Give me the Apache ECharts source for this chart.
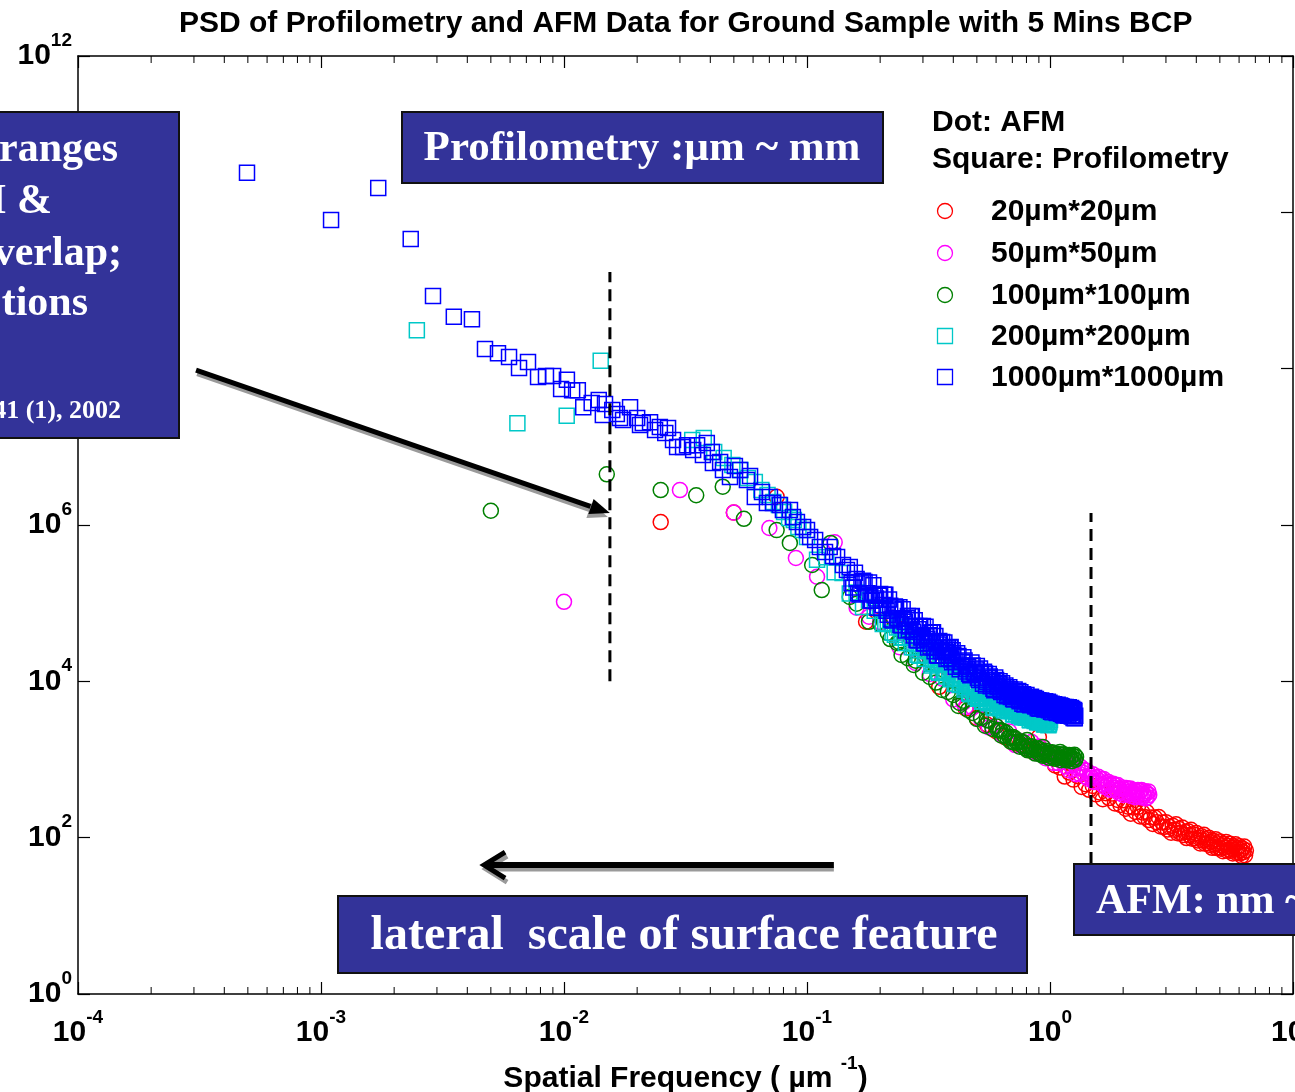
<!DOCTYPE html>
<html><head><meta charset="utf-8">
<script src="https://cdn.jsdelivr.net/npm/echarts/dist/echarts.min.js"></script>
<style>html,body{margin:0;padding:0;background:#fff}#c{width:1295px;height:1092px}</style>
</head><body><div id="c"></div>
<script>
// ---------------- DATA (frequency in µm^-1, PSD) ----------------
const seriesNames = ['20µm*20µm','50µm*50µm','100µm*100µm','200µm*200µm','1000µm*1000µm'];
const xTickExponents = [-4,-3,-2,-1,0,1];
const yTickExponents = [0,2,4,6,8,10,12];

const afm20 = [
[0.025,1.09e6],[0.05,1.44e6],[0.075,2.3e6],[0.175,5.8e4],[0.2,9.0e4],[0.225,6.5e4],[0.25,4.7e4],[0.275,3.6e4],[0.3,2.8e4],[0.325,2.2e4],[0.35,8.5e3],[0.375,1.5e4],[0.4,1.2e4],[0.45,4.5e3],[0.5,3.4e3],[0.55,2.8e3],[0.6,2.3e3],[0.65,1.95e3],[0.7,1.66e3],[0.75,1.55e3],[0.8,1.38e3],[0.85,1.26e3],[0.9,1.94e3],[0.95,1.17e3],
[1.00,1.21e3],[1.05,8.39e2],[1.10,7.89e2],[1.15,6.05e2],[1.20,6.81e2],[1.25,5.53e2],[1.30,6.11e2],[1.35,4.46e2],[1.40,4.84e2],[1.45,4.09e2],[1.50,4.58e2],[1.55,3.58e2],[1.60,3.79e2],[1.65,3.1e2],[1.70,3.71e2],[1.75,3.21e2],[1.80,3.66e2],[1.85,2.74e2],[1.90,3.04e2],[1.95,2.62e2],
[2.00,3.01e2],[2.05,2.35e2],[2.10,2.49e2],[2.15,2.03e2],[2.20,2.43e2],[2.25,2.13e2],[2.30,2.47e2],[2.35,1.87e2],[2.40,2.1e2],[2.45,1.84e2],[2.50,2.13e2],[2.55,1.68e2],[2.60,1.81e2],[2.65,1.5e2],[2.70,1.81e2],[2.75,1.58e2],[2.80,1.84e2],[2.85,1.39e2],[2.90,1.56e2],[2.95,1.37e2],
[3.00,1.58e2],[3.05,1.27e2],[3.10,1.38e2],[3.15,1.16e2],[3.20,1.42e2],[3.25,1.26e2],[3.30,1.48e2],[3.35,1.14e2],[3.40,1.29e2],[3.45,1.15e2],[3.50,1.35e2],[3.55,1.08e2],[3.60,1.18e2],[3.65,98.9],[3.70,1.21e2],[3.75,1.08e2],[3.80,1.26e2],[3.85,96.8],[3.90,1.1e2],[3.95,97.9],
[4.00,1.15e2],[4.05,92.3],[4.10,1.0e2],[4.15,84.3],[4.20,1.04e2],[4.25,92.5],[4.30,1.09e2],[4.35,83.8],[4.40,95.7],[4.45,85.3],[4.50,1.0e2],[4.55,80.7],[4.60,88.3],[4.65,74.1],[4.70,91.2],[4.75,81.3],[4.80,95.7],[4.85,73.6],[4.90,84.1],[4.95,75.3],
[5.00,89.3],[5.05,72.3],[5.10,79.4],[5.15,67.1],[5.20,83.2],[5.25,74.5],[5.30,88.3],[5.35,68.2],[5.40,78.5],[5.45,70.3],[5.50,83.4],[5.55,67.5],[5.60,74.1],[5.65,62.7],[5.70,77.6],[5.75,69.5],[5.80,82.4],[5.85,63.7],[5.90,73.3],[5.95,65.6],
[6.00,77.8],[6.05,63.0],[6.10,69.2],[6.15,58.5],[6.20,72.6],[6.25,65.0],[6.30,77.1],[6.35,59.6],[6.40,68.5]
];

const afm50 = [
[0.01,1.04e5],[0.03,2.8e6],[0.05,1.44e6],[0.07,9.15e5],[0.09,3.78e5],[0.11,2.18e5],[0.13,6.0e5],[0.18,6.71e4],[0.45,4.7e3],[0.58,2.6e3],
[0.16,8.75e4],[0.20,5.73e4],[0.24,2.73e4],[0.28,1.72e4],[0.32,1.24e4],[0.36,1.08e4],[0.40,5.87e3],[0.44,5.32e3],[0.48,4.62e3],[0.52,3.29e3],[0.56,2.58e3],[0.60,2.7e3],[0.64,2.05e3],[0.68,2.28e3],[0.72,1.53e3],[0.76,1.73e3],[0.80,1.46e3],[0.84,1.67e3],[0.88,1.2e3],
[0.90,1.47e3],[0.92,1.19e3],[0.94,1.43e3],[0.96,1.04e3],[0.98,1.18e3],[1.00,1.06e3],[1.02,1.21e3],[1.04,9.0e2],[1.06,1.08e3],[1.08,9.0e2],[1.10,1.09e3],[1.12,9.29e2],[1.14,1.0e3],[1.16,8.15e2],[1.18,9.86e2],[1.20,7.23e2],
[1.22,8.32e2],[1.24,7.53e2],[1.26,8.65e2],[1.28,6.49e2],[1.30,7.8e2],[1.32,6.56e2],[1.34,8.0e2],[1.36,6.84e2],[1.38,7.4e2],[1.40,6.05e2],[1.42,7.16e2],[1.44,5.64e2],[1.46,6.27e2],[1.48,5.79e2],[1.50,6.46e2],[1.52,5.14e2],[1.54,5.92e2],[1.56,5.16e2],[1.58,6.01e2],[1.60,5.31e2],
[1.62,5.65e2],[1.64,4.84e2],[1.66,5.65e2],[1.68,4.46e2],[1.70,4.98e2],[1.72,4.61e2],[1.74,5.14e2],[1.76,4.1e2],[1.78,4.74e2],[1.80,4.15e2],[1.82,4.88e2],[1.84,4.35e2],[1.86,4.66e2],[1.88,4.01e2],[1.90,4.71e2],[1.92,3.73e2],[1.94,4.19e2],[1.96,3.91e2],[1.98,4.39e2],[2.00,3.52e2],
[2.02,4.11e2],[2.04,3.65e2],[2.06,4.31e2],[2.08,3.86e2],[2.10,4.16e2],[2.12,3.6e2],[2.14,4.26e2],[2.16,3.4e2],[2.18,3.84e2],[2.20,3.6e2],[2.22,4.07e2],[2.24,3.3e2],[2.26,3.86e2],[2.28,3.44e2],[2.30,4.07e2],[2.32,3.66e2],[2.34,3.95e2],[2.36,3.44e2],[2.38,4.06e2],[2.40,3.26e2],
[2.42,3.68e2],[2.44,3.47e2],[2.46,3.92e2],[2.48,3.18e2],[2.50,3.72e2],[2.52,3.3e2],[2.54,3.91e2],[2.56,3.52e2]
];

const afm100 = [
[0.005,1.52e6],[0.015,4.45e6],[0.025,2.8e6],[0.035,2.4e6],[0.045,3.09e6],[0.055,1.2e6],[0.075,8.6e5],[0.085,5.9e5],[0.105,3.08e5],[0.115,1.47e5],[0.125,5.9e5],[0.15,1.2e5],
[0.215,4.15e4],[0.235,3.09e4],[0.245,2.17e4],[0.275,1.62e4],[0.425,5.28e3],[0.55,3.2e3],[0.625,2.38e3],[0.705,1.94e3],[0.805,1.78e3],[0.935,1.44e3],
[0.16,9.86e4],[0.18,5.77e4],[0.20,5.41e4],[0.22,3.47e4],[0.24,3.16e4],[0.26,1.98e4],[0.28,1.84e4],[0.30,1.29e4],[0.32,1.14e4],[0.34,9.64e3],[0.36,7.74e3],[0.38,7.33e3],[0.40,6.68e3],[0.42,4.85e3],[0.44,5.66e3],[0.46,4.31e3],[0.48,3.93e3],[0.50,3.3e3],[0.52,3.44e3],[0.54,2.7e3],[0.56,3.13e3],[0.58,2.46e3],
[0.60,2.67e3],[0.61,2.36e3],[0.62,2.39e3],[0.63,2.03e3],[0.64,2.32e3],[0.65,2.03e3],[0.66,2.21e3],[0.67,1.85e3],[0.68,1.93e3],[0.69,1.69e3],[0.70,1.87e3],[0.71,1.66e3],[0.72,1.85e3],[0.73,1.65e3],[0.74,1.69e3],[0.75,1.46e3],[0.76,1.69e3],[0.77,1.5e3],[0.78,1.65e3],[0.79,1.4e3],
[0.80,1.47e3],[0.81,1.31e3],[0.82,1.48e3],[0.83,1.32e3],[0.84,1.48e3],[0.85,1.33e3],[0.86,1.37e3],[0.87,1.19e3],[0.88,1.38e3],[0.89,1.23e3],[0.90,1.37e3],[0.91,1.17e3],[0.92,1.25e3],[0.93,1.12e3],[0.94,1.27e3],[0.95,1.14e3],[0.96,1.29e3],[0.97,1.16e3],[0.98,1.2e3],[0.99,1.05e3],
[1.00,1.23e3],[1.01,1.1e3],[1.02,1.24e3],[1.03,1.06e3],[1.04,1.14e3],[1.05,1.02e3],[1.06,1.16e3],[1.07,1.05e3],[1.08,1.18e3],[1.09,1.07e3],[1.10,1.25e3],[1.11,9.8e2],[1.12,1.15e3],[1.13,1.04e3],[1.14,1.17e3],[1.15,1.0e3],[1.16,1.08e3],[1.17,9.7e2],[1.18,1.11e3],[1.19,1.0e3],
[1.20,1.14e3],[1.21,1.04e3],[1.22,1.08e3],[1.23,9.5e2],[1.24,1.12e3],[1.25,1.02e3],[1.26,1.15e3],[1.27,9.9e2],[1.28,1.08e3]
];

const prof200 = [
[0.00248,3.09e8],[0.00643,2.0e7],[0.01026,2.5e7],[0.01416,1.26e8],[0.0337,1.22e7],[0.0376,1.3e7],[0.0415,8.6e6],[0.0454,7.2e6],[0.0493,5.85e6],[0.0532,5.05e6],[0.0571,3.99e6],[0.061,3.55e6],[0.0649,2.8e6],[0.0688,2.42e6],[0.0727,1.97e6],[0.0766,1.8e6],[0.0805,1.47e6],[0.0844,1.23e6],[0.0883,1.16e6],[0.0922,9.4e5],[0.0961,8.6e5],[0.1,7.0e5],
[0.11,3.58e5],[0.12,3.88e5],[0.13,2.48e5],[0.14,2.43e5],[0.15,1.33e5],[0.16,1.37e5],[0.17,8.91e4],[0.18,1.09e5],[0.19,7.98e4],[0.20,8.87e4],[0.21,5.58e4],[0.22,5.97e4],[0.23,3.94e4],[0.24,4.94e4],[0.25,3.66e4],[0.26,4.36e4],[0.27,2.73e4],[0.28,3.03e4],[0.29,2.13e4],[0.30,2.72e4],
[0.31,2.15e4],[0.32,2.56e4],[0.33,1.68e4],[0.34,1.87e4],[0.35,1.29e4],[0.36,1.7e4],[0.37,1.33e4],[0.38,1.64e4],[0.39,1.06e4],[0.40,1.22e4],[0.41,9.27e3],[0.42,1.2e4],[0.43,9.95e3],[0.44,1.19e4],[0.45,8.34e3],[0.46,9.38e3],[0.47,6.84e3],[0.48,8.89e3],[0.49,7.19e3],[0.50,8.79e3],
[0.51,6.12e3],[0.52,7.16e3],[0.53,5.55e3],[0.54,7.35e3],[0.55,6.17e3],[0.56,7.52e3],[0.57,5.35e3],[0.58,6.14e3],[0.59,4.55e3],[0.60,6.03e3],[0.61,5.09e3],[0.62,5.96e3],[0.63,4.6e3],[0.64,5.15e3],[0.65,4.3e3],[0.66,5.25e3],[0.67,4.65e3],[0.68,5.35e3],[0.69,4.2e3],[0.70,4.62e3],
[0.71,3.77e3],[0.72,4.62e3],[0.73,4.06e3],[0.74,4.76e3],[0.75,3.71e3],[0.76,4.18e3],[0.77,3.49e3],[0.78,4.3e3],[0.79,3.82e3],[0.80,4.43e3],[0.81,3.51e3],[0.82,3.9e3],[0.83,3.18e3],[0.84,3.93e3],[0.85,3.45e3],[0.86,4.06e3],[0.87,3.17e3],[0.88,3.58e3],[0.89,3.01e3],[0.90,3.71e3],
[0.91,3.32e3],[0.92,3.86e3],[0.93,3.07e3],[0.94,3.42e3],[0.95,2.81e3],[0.96,3.47e3],[0.97,3.05e3],[0.98,3.61e3],[0.99,2.82e3],[1.00,3.2e3],
[0.205,5.41e4],[0.215,5.52e4],[0.225,4.18e4],[0.235,4.9e4],[0.245,3.62e4],[0.255,3.1e4],[0.265,3.7e4],[0.275,2.72e4],[0.285,2.19e4],[0.295,2.49e4],[0.305,1.95e4],[0.315,2.43e4],[0.325,1.59e4],[0.335,1.69e4],[0.345,1.34e4],
[0.355,1.64e4],[0.365,1.28e4],[0.375,1.15e4],[0.385,1.41e4],[0.395,1.08e4],[0.405,9.29e3],[0.415,1.09e4],[0.425,8.99e3],[0.435,1.12e4],[0.445,7.85e3],[0.455,8.49e3],[0.465,7.0e3],[0.475,8.57e3],[0.485,6.92e3],[0.495,6.34e3],
[0.505,5.97e3],[0.515,6.56e3],[0.525,5.51e3],[0.535,6.87e3],[0.545,5.65e3],[0.555,5.26e3],[0.565,6.55e3],[0.575,5.27e3],[0.585,4.62e3],[0.595,5.52e3],[0.605,4.85e3],[0.615,5.75e3],[0.625,4.52e3],[0.635,4.84e3],[0.645,4.28e3],
[0.655,5.01e3],[0.665,4.37e3],[0.675,4.15e3],[0.685,4.85e3],[0.695,4.16e3],[0.705,3.79e3],[0.715,4.34e3],[0.725,3.85e3],[0.735,4.59e3],[0.745,3.62e3],[0.755,3.91e3],[0.765,3.48e3],[0.775,4.08e3],[0.785,3.58e3],[0.795,3.42e3],
[0.805,4.04e3],[0.815,3.49e3],[0.825,3.21e3],[0.835,3.67e3],[0.845,3.27e3],[0.855,3.91e3],[0.865,3.1e3],[0.875,3.35e3],[0.885,2.99e3],[0.895,3.52e3],[0.905,3.1e3],[0.915,2.98e3],[0.925,3.52e3],[0.935,3.05e3],[0.945,2.82e3],
[0.955,3.24e3],[0.965,2.89e3],[0.975,3.47e3],[0.985,2.75e3],[0.995,2.99e3]
];

const prof1000 = [
[4.96e-4,3.2e10],[1.1e-3,8.0e9],[1.72e-3,2.05e10],[2.34e-3,4.55e9],[2.89e-3,8.5e8],[3.52e-3,4.6e8],[4.18e-3,4.3e8],[4.73e-3,1.78e8],[5.35e-3,1.58e8],[5.94e-3,1.41e8],[6.53e-3,1.02e8],[7.11e-3,1.22e8],[7.82e-3,7.8e7],[8.43e-3,8.05e7],[9.02e-3,8.05e7],[9.73e-3,5.5e7],
[1.028e-2,7.2e7],[1.08e-2,5.3e7],[1.14e-2,5.3e7],[1.2e-2,3.2e7],[1.3e-2,3.63e7],[1.39e-2,3.97e7],[1.445e-2,2.55e7],[1.475e-2,3.53e7],[1.58e-2,2.96e7],[1.65e-2,2.63e7],[1.70e-2,2.34e7],[1.75e-2,2.2e7],[1.87e-2,3.2e7],[2.0e-2,2.34e7],[2.055e-2,1.9e7],[2.11e-2,2.02e7],[2.26e-2,2.07e7],[2.37e-2,1.64e7],[2.48e-2,1.79e7],[2.61e-2,1.5e7],[2.68e-2,1.74e7],[2.81e-2,1.22e7],[2.92e-2,9.95e6],
[3.09e-2,9.95e6],[3.21e-2,1.05e7],[3.4e-2,9.1e6],[3.53e-2,1.05e7],[3.73e-2,7.86e6],[3.87e-2,1.12e7],[4.06e-2,8.6e6],[4.1e-2,6.2e6],[4.39e-2,6.4e6],[4.51e-2,5.05e6],[4.82e-2,4.1e6],[5.05e-2,5.7e6],[5.3e-2,5.05e6],[5.66e-2,3.76e6],[5.83e-2,4.24e6],[6.1e-2,2.28e6],[6.53e-2,2.64e6],[6.84e-2,1.91e6],[7.04e-2,2.28e6],[7.24e-2,1.91e6],[7.74e-2,1.8e6],[7.96e-2,1.56e6],
[8.51e-2,1.56e6],[8.75e-2,1.27e6],[9.09e-2,1.09e6],[9.64e-2,9.4e5],[0.100,8.63e5],[0.103,7.0e5],[0.108,6.43e5],[0.113,5.23e5],[0.1186,4.51e5],[0.124,5.23e5],[0.128,4.01e5],[0.133,3.9e5],[0.1406,3.08e5],[0.146,2.65e5],
[0.150,2.9e5],[0.155,1.59e5],[0.160,2.04e5],[0.165,1.29e5],[0.170,1.94e5],[0.175,1.34e5],[0.180,1.84e5],[0.185,1.07e5],[0.190,1.26e5],[0.195,8.75e4],[0.200,1.31e5],[0.205,9.5e4],[0.210,1.28e5],[0.215,7.1e4],[0.220,9.3e4],[0.225,6.0e4],[0.230,9.08e4],[0.235,6.4e4],[0.240,8.87e4],[0.245,5.22e4],
[0.250,6.27e4],[0.255,4.47e4],[0.260,6.85e4],[0.265,5.02e4],[0.270,6.85e4],[0.275,3.86e4],[0.280,5.09e4],[0.285,3.33e4],[0.290,5.1e4],[0.295,3.64e4],[0.300,5.1e4],[0.305,3.08e4],[0.310,3.76e4],[0.315,2.7e4],[0.320,4.18e4],[0.325,3.09e4],[0.330,4.26e4],[0.335,2.42e4],[0.340,3.22e4],[0.345,2.12e4],
[0.350,3.28e4],[0.355,2.43e4],[0.360,3.18e4],[0.365,2.14e4],[0.370,2.5e4],[0.375,1.93e4],[0.380,2.7e4],[0.385,2.13e4],[0.390,2.74e4],[0.395,1.75e4],[0.400,2.19e4],
[0.41,1.54e4],[0.42,2.11e4],[0.43,1.59e4],[0.44,2.04e4],[0.45,1.34e4],[0.46,1.54e4],[0.47,1.2e4],[0.48,1.6e4],[0.49,1.28e4],[0.50,1.57e4],[0.51,1.04e4],[0.52,1.26e4],[0.53,9.33e3],[0.54,1.26e4],[0.55,9.86e3],[0.56,1.24e4],[0.57,8.63e3],[0.58,9.84e3],[0.59,7.71e3],[0.60,1.04e4],
[0.61,8.47e3],[0.62,1.0e4],[0.63,7.29e3],[0.64,8.47e3],[0.65,6.7e3],[0.66,8.43e3],[0.67,7.0e3],[0.68,8.39e3],[0.69,6.32e3],[0.70,7.0e3],[0.71,5.85e3],[0.72,7.45e3],[0.73,6.32e3],[0.74,7.53e3],[0.75,5.55e3],[0.76,6.5e3],[0.77,5.18e3],[0.78,6.58e3],[0.79,5.51e3],[0.80,6.67e3],
[0.81,5.19e3],[0.82,5.71e3],[0.83,4.94e3],[0.84,6.05e3],[0.85,5.3e3],[0.86,6.14e3],[0.87,4.78e3],[0.88,5.46e3],[0.89,4.54e3],[0.90,5.56e3],[0.91,4.82e3],[0.92,5.68e3],[0.93,4.55e3],[0.94,5.02e3],[0.95,4.36e3],[0.96,5.35e3],[0.97,4.69e3],[0.98,5.47e3],[0.99,4.27e3],[1.00,4.89e3],
[1.01,4.07e3],[1.02,5.0e3],[1.03,4.34e3],[1.04,5.1e3],[1.05,4.08e3],[1.06,4.52e3],[1.07,3.92e3],[1.08,4.81e3],[1.09,4.22e3],[1.10,4.91e3],[1.11,3.85e3],[1.12,4.42e3],[1.13,3.7e3],[1.14,4.55e3],[1.15,3.96e3],[1.16,4.68e3],[1.17,3.76e3],[1.18,4.16e3],[1.19,3.62e3],[1.20,4.46e3],
[1.21,3.91e3],[1.22,4.56e3],[1.23,3.56e3],[1.24,4.07e3],[1.25,3.4e3],[1.26,4.18e3],[1.27,3.62e3],
[0.1525,1.8e5],[0.1575,2.45e5],[0.1625,1.34e5],[0.1675,1.78e5],[0.1725,1.87e5],[0.1775,1.34e5],[0.1825,1.08e5],[0.1875,1.7e5],[0.1925,1.15e5],[0.1975,1.24e5],[0.2025,8.67e4],[0.2075,1.28e5],[0.2125,7.98e4],[0.2175,1.11e5],[0.2225,6.17e4],
[0.2275,8.32e4],[0.2325,8.83e4],[0.2375,6.41e4],[0.2425,5.24e4],[0.2475,8.39e4],[0.2525,5.78e4],[0.2575,6.41e4],[0.2625,4.57e4],[0.2675,6.81e4],[0.2725,4.32e4],[0.2775,6.04e4],[0.2825,3.4e4],[0.2875,4.65e4],[0.2925,5.0e4],[0.2975,3.67e4],
[0.3025,3.05e4],[0.3075,4.99e4],[0.3125,3.48e4],[0.3175,3.89e4],[0.3225,2.8e4],[0.3275,4.21e4],[0.3325,2.69e4],[0.3375,3.8e4],[0.3425,2.16e4],[0.3475,2.97e4],[0.3525,3.11e4],[0.3575,2.45e4],[0.3625,2.12e4],[0.3675,3.13e4],[0.3725,2.36e4],
[0.3775,2.56e4],[0.3825,1.98e4],[0.3875,2.71e4],[0.3925,1.91e4],[0.3975,2.5e4],
[0.405,1.78e4],[0.415,2.28e4],[0.425,1.43e4],[0.435,1.78e4],[0.445,1.85e4],[0.455,1.45e4],[0.465,1.25e4],[0.475,1.74e4],[0.485,1.33e4],[0.495,1.42e4],[0.505,1.11e4],[0.515,1.46e4],[0.525,1.05e4],[0.535,1.33e4],[0.545,8.87e3],
[0.555,1.1e4],[0.565,1.15e4],[0.575,9.23e3],[0.585,8.02e3],[0.595,1.12e4],[0.605,8.73e3],[0.615,9.2e3],[0.625,7.64e3],[0.635,9.46e3],[0.645,7.36e3],[0.655,8.83e3],[0.665,6.44e3],[0.675,7.6e3],[0.685,7.91e3],[0.695,6.65e3],
[0.705,6.0e3],[0.715,7.89e3],[0.725,6.49e3],[0.735,6.9e3],[0.745,5.78e3],[0.755,7.23e3],[0.765,5.66e3],[0.775,6.85e3],[0.785,5.05e3],[0.795,6.01e3],[0.805,6.22e3],[0.815,5.46e3],[0.825,5.05e3],[0.835,6.34e3],[0.845,5.41e3],
[0.855,5.7e3],[0.865,4.93e3],[0.875,5.96e3],[0.885,4.89e3],[0.895,5.74e3],[0.905,4.47e3],[0.915,5.2e3],[0.925,5.45e3],[0.935,4.79e3],[0.945,4.44e3],[0.955,5.58e3],[0.965,4.78e3],[0.975,5.07e3],[0.985,4.4e3],[0.995,5.32e3],
[1.005,4.38e3],[1.015,5.15e3],[1.025,4.02e3],[1.035,4.68e3],[1.045,4.89e3],[1.055,4.31e3],[1.065,3.99e3],[1.075,5.02e3],[1.085,4.3e3],[1.095,4.55e3],[1.105,3.95e3],[1.115,4.81e3],[1.125,3.96e3],[1.135,4.69e3],[1.145,3.66e3],
[1.155,4.29e3],[1.165,4.49e3],[1.175,3.96e3],[1.185,3.68e3],[1.195,4.66e3],[1.205,3.98e3],[1.215,4.23e3],[1.225,3.66e3],[1.235,4.44e3],[1.245,3.66e3],[1.255,4.31e3],[1.265,3.36e3]
];

// annotation anchors in data coordinates [frequency, PSD]
const guideLines = [[[1.545e-2,1.0e4],[1.545e-2,1.72e9]], [[1.475,46],[1.475,1.42e6]]];
const arrowDiagonal = [[3.06e-4,9.6e7],[1.545e-2,1.42e6]];
const arrowHorizontal = [[0.129,44.7],[4.69e-3,44.7]];

// ---------------- CHART ----------------
const SANS = "'Liberation Sans', Arial, Helvetica, sans-serif";
const SERIF = "'Liberation Serif', 'Times New Roman', serif";
const colors = ['#ff0000','#ff00ff','#008000','#00c8c8','#0000ff'];
const symbols = ['circle','circle','circle','rect','rect'];
const seriesData = [afm20, afm50, afm100, prof200, prof1000];

const minorTickValues = [];
for (let e = -4; e < 1; e++) for (let m = 2; m <= 9; m++) minorTickValues.push([m * Math.pow(10, e), 1]);

function expLabel(v) { const e = Math.round(Math.log10(v)); return '{b|10}{s|' + e + '}'; }
const labelRich = {
  b: {fontSize: 30, fontWeight: 'bold', fontFamily: SANS, color: '#000'},
  s: {fontSize: 19, fontWeight: 'bold', fontFamily: SANS, color: '#000', padding: [0, 0, 31, 0]}
};
const axisLine = {show: true, lineStyle: {color: '#000', width: 1.5}};

const chart = echarts.init(document.getElementById('c'), null, {renderer: 'canvas'});
const option = {
  animation: false,
  backgroundColor: '#fff',
  title: {
    text: 'PSD of Profilometry and AFM Data for Ground Sample with 5 Mins BCP',
    left: 174, top: 4,
    textStyle: {fontSize: 30, fontWeight: 'bold', fontFamily: SANS, color: '#000'}
  },
  grid: {left: 78, right: 2, top: 56, bottom: 98, containLabel: false, outerBoundsMode: 'none'},
  xAxis: [{
    type: 'log', logBase: 10, min: 1e-4, max: 10, position: 'bottom',
    axisLine, axisTick: {inside: true, length: 12, lineStyle: {color: '#000', width: 1.2}},
    axisLabel: {formatter: expLabel, rich: labelRich, margin: 14, showMaxLabel: true, showMinLabel: true, hideOverlap: false},
    splitLine: {show: false},
    name: '{t|Spatial Frequency ( µm }{s|-1}{t|)}', nameLocation: 'middle', nameGap: 60,
    nameTextStyle: {rich: {
      t: {fontSize: 30, fontWeight: 'bold', fontFamily: SANS, color: '#000'},
      s: {fontSize: 19, fontWeight: 'bold', fontFamily: SANS, color: '#000', padding: [0, 0, 31, 0]}
    }}
  }, {
    type: 'log', logBase: 10, min: 1e-4, max: 10, position: 'top',
    axisLine, axisTick: {inside: true, length: 12, lineStyle: {color: '#000', width: 1.2}},
    axisLabel: {show: false}, splitLine: {show: false}
  }],
  yAxis: [{
    type: 'log', logBase: 100, min: 1, max: 1e12, position: 'left',
    axisLine, axisTick: {inside: true, length: 12, lineStyle: {color: '#000', width: 1.2}},
    axisLabel: {formatter: expLabel, rich: labelRich, margin: 6, showMaxLabel: true, showMinLabel: true},
    splitLine: {show: false}
  }, {
    type: 'log', logBase: 100, min: 1, max: 1e12, position: 'right',
    axisLine, axisTick: {inside: true, length: 12, lineStyle: {color: '#000', width: 1.2}},
    axisLabel: {show: false}, splitLine: {show: false}
  }],
  series: [{
    type: 'custom', name: 'minorTicks', silent: true, z: 1,
    data: minorTickValues,
    renderItem: function (params, api) {
      const x = api.value(0);
      const pb = api.coord([x, 1]);
      const pt = api.coord([x, 1e12]);
      const st = {stroke: '#000', lineWidth: 1};
      return {type: 'group', children: [
        {type: 'line', shape: {x1: pb[0], y1: pb[1], x2: pb[0], y2: pb[1] - 7}, style: st},
        {type: 'line', shape: {x1: pt[0], y1: pt[1], x2: pt[0], y2: pt[1] + 7}, style: st}
      ]};
    }
  }].concat(seriesData.map((d, i) => ({
    type: 'scatter', name: seriesNames[i], data: d, symbol: symbols[i], symbolSize: 15, silent: true,
    itemStyle: {color: 'rgba(0,0,0,0)', borderColor: colors[i], borderWidth: 1.5, opacity: 1}
  })))
};
chart.setOption(option);

// ---------------- ANNOTATIONS ----------------
const toPx = v => chart.convertToPixel({xAxisIndex: 0, yAxisIndex: 0}, v);
const G = [];
const Z = 100;
guideLines.forEach(g => {
  const a = toPx(g[0]), b = toPx(g[1]);
  G.push({type: 'line', z: Z, shape: {x1: a[0], y1: a[1], x2: b[0], y2: b[1]}, style: {stroke: '#000', lineWidth: 3, lineDash: [12, 7]}});
});
(function () {
  const p0 = toPx(arrowDiagonal[0]), p1 = toPx(arrowDiagonal[1]);
  const dx = p1[0] - p0[0], dy = p1[1] - p0[1], L = Math.hypot(dx, dy);
  const ux = dx / L, uy = dy / L, nx = -uy, ny = ux;
  const bx = p1[0] - ux * 16, by = p1[1] - uy * 16;
  G.push({type: 'line', z: Z, shape: {x1: p0[0] + 1, y1: p0[1] + 4, x2: bx, y2: by + 4}, style: {stroke: '#9a9a9a', lineWidth: 4}});
  G.push({type: 'line', z: Z, shape: {x1: p0[0], y1: p0[1], x2: bx, y2: by}, style: {stroke: '#000', lineWidth: 5}});
  const hx = p1[0] - ux * 20, hy = p1[1] - uy * 20;
  G.push({type: 'polygon', z: Z, shape: {points: [[p1[0] - 2, p1[1] + 4], [hx + nx * 8 - 2, hy + ny * 8 + 4], [hx - nx * 8 - 2, hy - ny * 8 + 4]]}, style: {fill: '#9a9a9a'}});
  G.push({type: 'polygon', z: Z, shape: {points: [p1, [hx + nx * 8, hy + ny * 8], [hx - nx * 8, hy - ny * 8]]}, style: {fill: '#000'}});
})();
(function () {
  const p0 = toPx(arrowHorizontal[0]), p1 = toPx(arrowHorizontal[1]);
  G.push({type: 'line', z: Z, shape: {x1: p0[0], y1: p0[1] + 4, x2: p1[0] + 4, y2: p1[1] + 4}, style: {stroke: '#9a9a9a', lineWidth: 5}});
  G.push({type: 'polyline', z: Z, shape: {points: [[p1[0] + 23, p1[1] - 9], [p1[0] + 2, p1[1] + 4], [p1[0] + 23, p1[1] + 17]]}, style: {stroke: '#9a9a9a', lineWidth: 5, fill: null}});
  G.push({type: 'line', z: Z, shape: {x1: p0[0], y1: p0[1], x2: p1[0] + 2, y2: p1[1]}, style: {stroke: '#000', lineWidth: 6}});
  G.push({type: 'polyline', z: Z, shape: {points: [[p1[0] + 21, p1[1] - 13], [p1[0], p1[1]], [p1[0] + 21, p1[1] + 13]]}, style: {stroke: '#000', lineWidth: 5, fill: null}});
})();

function box(x, y, w, h) {
  return {type: 'rect', z: Z + 1, shape: {x, y, width: w, height: h}, style: {fill: '#333399', stroke: '#111', lineWidth: 2}};
}
function btext(x, y, text, size, align) {
  return {type: 'text', z: Z + 2, x, y, style: {text, fill: '#fff', font: 'bold ' + size + 'px ' + SERIF, align: align || 'center', verticalAlign: 'middle'}};
}
G.push(box(-10, 112, 189, 326));
G.push(btext(118, 150, 'ranges', 42, 'right'));
G.push(btext(52, 202, 'M &', 42, 'right'));
G.push(btext(122, 254, 'verlap;', 42, 'right'));
G.push(btext(88, 304, 'tions', 42, 'right'));
G.push(btext(121, 411, '41 (1), 2002', 26, 'right'));
G.push(box(402, 112, 481, 71));
G.push(btext(642, 149, 'Profilometry :µm ~ mm', 43));
G.push(box(338, 896, 689, 77));
G.push(btext(684, 937, 'lateral  scale of surface feature', 48));
G.push(box(1074, 864, 240, 71));
G.push(btext(1096, 902, 'AFM: nm ~ µm', 42, 'left'));

// legend
const legendRows = [211, 253, 295, 336, 377];
G.push({type: 'text', z: Z, x: 932, y: 123, style: {text: 'Dot: AFM', fill: '#000', font: 'bold 30px ' + SANS, align: 'left', verticalAlign: 'middle'}});
G.push({type: 'text', z: Z, x: 932, y: 160, style: {text: 'Square: Profilometry', fill: '#000', font: 'bold 30px ' + SANS, align: 'left', verticalAlign: 'middle'}});
legendRows.forEach((y, i) => {
  if (symbols[i] === 'circle') {
    G.push({type: 'circle', z: Z, shape: {cx: 945, cy: y, r: 7.5}, style: {fill: null, stroke: colors[i], lineWidth: 1.3}});
  } else {
    G.push({type: 'rect', z: Z, shape: {x: 937.5, y: y - 7.5, width: 15, height: 15}, style: {fill: null, stroke: colors[i], lineWidth: 1.3}});
  }
  G.push({type: 'text', z: Z, x: 991, y: y + 1, style: {text: seriesNames[i], fill: '#000', font: 'bold 30px ' + SANS, align: 'left', verticalAlign: 'middle'}});
});
chart.setOption({graphic: G});
</script>
</body></html>
